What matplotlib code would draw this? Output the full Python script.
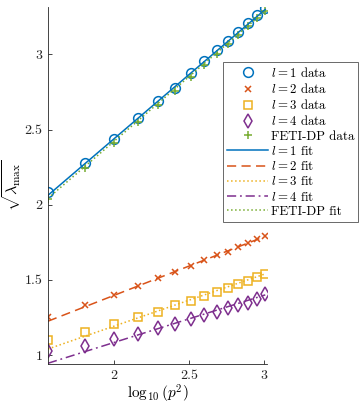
import numpy as np
import matplotlib
matplotlib.use("Agg")
import matplotlib.pyplot as plt

plt.rcParams['font.family'] = 'cmr10'
plt.rcParams['mathtext.fontset'] = 'cm'
plt.rcParams['axes.formatter.use_mathtext'] = True

# Data
p = np.array([6, 8, 10, 12, 14, 16, 18, 20, 22, 24, 26, 28, 30, 32])
l1 = [2.083, 2.28, 2.44, 2.575, 2.69, 2.78, 2.875, 2.955, 3.027, 3.09, 3.15, 3.21, 3.265, 3.31]
l2 = [1.25, 1.33, 1.40, 1.46, 1.51, 1.55, 1.59, 1.63, 1.665, 1.685, 1.72, 1.745, 1.77, 1.79]
l3 = [1.10, 1.155, 1.205, 1.25, 1.285, 1.33, 1.36, 1.39, 1.42, 1.445, 1.47, 1.49, 1.52, 1.54]
l4 = [1.027, 1.06, 1.105, 1.14, 1.18, 1.205, 1.24, 1.265, 1.285, 1.31, 1.33, 1.345, 1.37, 1.405]
feti = [2.036, 2.245, 2.41, 2.55, 2.665, 2.76, 2.85, 2.93, 3.005, 3.07, 3.13, 3.19, 3.245, 3.29]

# Fit lines: values at the first and last p
fit_p = np.array([6, 32])
fit_l1 = [2.063, 3.30]
fit_l2 = [1.225, 1.79]
fit_l3 = [1.04, 1.54]
fit_l4 = [0.945, 1.40]
fit_feti = [2.043, 3.29]

c1, c2, c3, c4, c5 = '#0072BD', '#D95319', '#EDB120', '#7E2F8E', '#77AC30'

x = np.log10(p.astype(float) ** 2)
xf = np.log10(fit_p.astype(float) ** 2)

fig = plt.figure(figsize=(3.62, 4.09), dpi=100)
ax = fig.add_axes([48/362, 1-364/409, (267-48)/362, (364-7)/409])

h = []
h.append(ax.plot(x, l1, 'o', mfc='none', mec=c1, ms=7, mew=1.1, label=r'$l = 1$ data')[0])
h.append(ax.plot(x, l2, 'x', mfc='none', mec=c2, ms=5, mew=1.1, label=r'$l = 2$ data')[0])
h.append(ax.plot(x, l3, 's', mfc='none', mec=c3, ms=6, mew=1.1, label=r'$l = 3$ data')[0])
h.append(ax.plot(x, l4, 'd', mfc='none', mec=c4, ms=7.5, mew=1.1, label=r'$l = 4$ data')[0])
h.append(ax.plot(x, feti, '+', mfc='none', mec=c5, ms=6, mew=1.1, label='FETI-DP data')[0])
h.append(ax.plot(xf, fit_l1, '-', color=c1, lw=1.1, label=r'$l = 1$ fit')[0])
h.append(ax.plot(xf, fit_l2, '--', color=c2, lw=1.1, dashes=(6, 3.5), label=r'$l = 2$ fit')[0])
h.append(ax.plot(xf, fit_l3, ':', color=c3, lw=1.1, label=r'$l = 3$ fit')[0])
h.append(ax.plot(xf, fit_l4, '-.', color=c4, lw=1.1, dashes=(6, 2.5, 1.2, 2.5), label=r'$l = 4$ fit')[0])
h.append(ax.plot(xf, fit_feti, ':', color=c5, lw=1.1, label='FETI-DP fit')[0])

ax.set_xlim(np.log10(36), 3.022)
ax.set_ylim(0.94, 3.316)
ax.set_xticks([2, 2.5, 3])
ax.set_xticklabels(['2', '2.5', '3'])
ax.set_yticks([1, 1.5, 2, 2.5, 3])
ax.set_yticklabels(['1', '1.5', '2', '2.5', '3'])
for s in ['top', 'right']:
    ax.spines[s].set_visible(False)
for s in ['left', 'bottom']:
    ax.spines[s].set_linewidth(0.6)
    ax.spines[s].set_color('#262626')
ax.tick_params(direction='in', length=3, width=0.6, labelsize=10, colors='#262626', pad=4)
ax.set_xlabel(r'$\log_{10}(p^2)$', fontsize=11, labelpad=1)
ax.set_ylabel(r'$\sqrt{\lambda_{\max}}$', fontsize=11.5, labelpad=1)

leg = fig.legend(handles=h, loc='upper left', bbox_to_anchor=(223/362, 1-62/409),
                 fontsize=9.3, frameon=True, fancybox=False, edgecolor='#262626',
                 handlelength=3.2, handletextpad=0.2, labelspacing=0.17,
                 borderpad=0.3, borderaxespad=0)
leg.get_frame().set_linewidth(0.6)

fig.savefig('out.png', dpi=100)
